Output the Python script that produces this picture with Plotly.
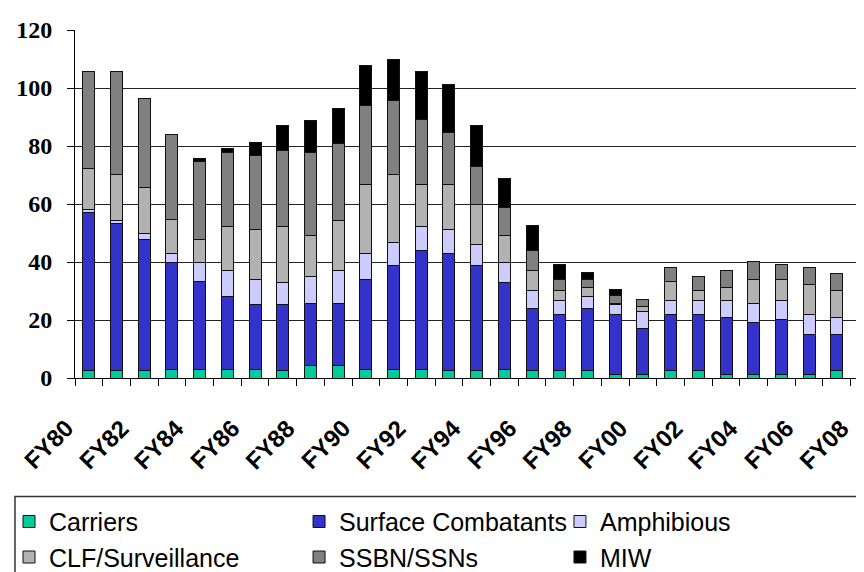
import plotly.graph_objects as go

years = ["FY80","FY81","FY82","FY83","FY84","FY85","FY86","FY87","FY88","FY89",
         "FY90","FY91","FY92","FY93","FY94","FY95","FY96","FY97","FY98","FY99",
         "FY00","FY01","FY02","FY03","FY04","FY05","FY06","FY07","FY08"]
label_years = years[::2]

carriers = [2.6,2.6,2.6,2.9,2.9,2.9,2.9,2.6,4.4,4.4,
            2.9,2.9,2.9,2.6,2.6,2.9,2.6,2.6,2.6,1.1,
            1.1,2.6,2.6,1.1,1.1,1.1,1.1,2.5,2.5]
surface = [54.4,50.6,45.2,37.1,30.3,25.2,22.6,22.9,21.3,21.4,
           31.2,36.0,41.2,40.2,36.3,30.2,21.3,19.4,21.4,20.9,
           16.0,19.4,19.4,19.9,18.0,19.0,14.0,12.6,13.4]
amphibious = [1.2,1.2,1.9,2.9,6.8,9.0,8.6,7.6,9.4,11.3,
              8.7,7.9,8.2,8.4,7.3,6.9,6.3,4.8,4.2,3.4,
              5.9,4.8,4.8,5.8,6.7,6.7,6.8,5.8,6.0]
clf = [13.9,15.8,16.1,11.6,7.6,15.2,17.1,19.2,14.1,17.1,
       24.0,23.4,14.5,15.6,13.7,9.2,6.9,3.4,3.1,0.3,
       1.8,6.4,3.4,4.5,8.3,7.3,10.2,9.3,6.8]
ssbn = [33.7,35.6,30.7,29.3,27.2,25.6,25.5,26.3,28.6,26.7,
        27.1,25.6,22.5,17.8,12.9,9.6,7.0,3.6,2.5,2.8,
        2.1,5.0,4.9,5.8,6.0,5.0,6.1,6.0,8.4]
miw = [0,0,0,0,0.8,1.1,4.4,8.4,11.0,12.2,
       14.0,14.0,16.5,16.5,14.2,10.1,8.4,5.4,2.5,1.9,
       0,0,0,0,0,0,0,0,0]

series = [
    ("Carriers", carriers, "#00CC99", "legend"),
    ("Surface Combatants", surface, "#3333CC", "legend2"),
    ("Amphibious", amphibious, "#CCCCFF", "legend3"),
    ("CLF/Surveillance", clf, "#B2B2B2", "legend"),
    ("SSBN/SSNs", ssbn, "#808080", "legend2"),
    ("MIW", miw, "#000000", "legend3"),
]

fig = go.Figure()
for name, vals, color, lg in series:
    fig.add_trace(go.Bar(
        x=years, y=vals, name=name, legend=lg,
        marker=dict(color=color, line=dict(color="#111111", width=1)),
    ))

# x category labels (every other year), rotated like the original
for yr in label_years:
    fig.add_annotation(
        x=yr, xref="x", y=-0.097, yref="paper",
        text=yr, textangle=-45, showarrow=False,
        xanchor="right", yanchor="top", xshift=-8,
        font=dict(family="Liberation Sans", size=24, weight="bold", color="black"),
    )

legend_font = dict(family="Liberation Sans", size=25, color="black")
common_legend = dict(orientation="v", traceorder="normal", font=legend_font,
                     bgcolor="rgba(0,0,0,0)", borderwidth=0,
                     xanchor="left", yanchor="top", y=-0.347,
                     itemclick=False, itemdoubleclick=False)

fig.update_layout(
    width=864, height=572,
    margin=dict(l=67, r=0, t=22, b=192),
    paper_bgcolor="white", plot_bgcolor="white",
    barmode="stack", bargap=0.567,
    legend=dict(x=-0.0828, **common_legend),
    legend2=dict(x=0.2811, **common_legend),
    legend3=dict(x=0.6085, **common_legend),
    xaxis=dict(
        type="category", range=[-0.5, 28.27],
        tickson="boundaries", ticks="outside", ticklen=7, tickcolor="black", tickwidth=1,
        showticklabels=False,
        showline=True, linecolor="black", linewidth=1,
        showgrid=False, zeroline=False, fixedrange=True,
    ),
    yaxis=dict(
        range=[0, 120], dtick=20, tick0=0,
        ticks="outside", ticklen=7, tickcolor="black", tickwidth=1,
        ticklabelstandoff=10,
        tickfont=dict(family="Liberation Serif", size=24, weight="bold", color="black"),
        showline=True, linecolor="black", linewidth=1,
        showgrid=True, gridcolor="#222222", gridwidth=1,
        zeroline=False, fixedrange=True,
    ),
    shapes=[dict(type="rect", xref="paper", yref="paper",
                 x0=-0.0753, x1=1.05, y0=-0.3408, y1=-0.7,
                 line=dict(color="#333333", width=1.5), fillcolor="rgba(0,0,0,0)",
                 layer="below")],
)

fig.write_html("out.html")
